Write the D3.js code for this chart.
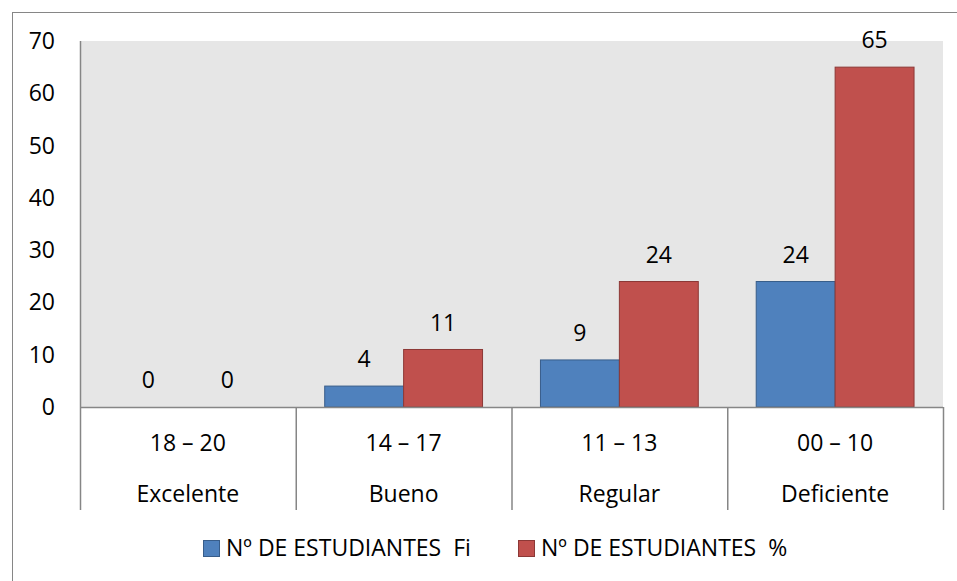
<!DOCTYPE html>
<html>
<head>
<meta charset="utf-8">
<script src="https://cdn.jsdelivr.net/npm/d3@7"></script>
<style>
  body { margin: 0; background: #fff; }
  svg { display: block; font-family: "Open Sans", "Noto Sans", sans-serif; }
</style>
</head>
<body>
<svg id="chart"></svg>
<script>
// data
const ranges = ["18 – 20", "14 – 17", "11 – 13", "00 – 10"];
const levels = ["Excelente", "Bueno", "Regular", "Deficiente"];
const fiValues = [0, 4, 9, 24];
const pctValues = [0, 11, 24, 65];
const seriesNames = ["Nº DE ESTUDIANTES  Fi", "Nº DE ESTUDIANTES  %"];
const seriesColors = ["#4f81bd", "#c0504d"];
const seriesStroke = ["#385d8a", "#8c3836"];
const yTicks = [0, 10, 20, 30, 40, 50, 60, 70];

const W = 957, H = 581;
const plot = { left: 80, right: 943, top: 41, bottom: 407 };
const axisBottom = 510;
const fontSize = 23;

const svg = d3.select("#chart").attr("width", W).attr("height", H);

// outer frame
svg.append("rect")
  .attr("x", 12.5).attr("y", 12.5)
  .attr("width", W).attr("height", H)
  .attr("fill", "none").attr("stroke", "#868686").attr("stroke-width", 1);

// scales
const x = d3.scaleBand().domain(levels).range([plot.left, plot.right]);
const y = d3.scaleLinear().domain([0, 70]).range([plot.bottom, plot.top]);
const inner = d3.scaleBand().domain([0, 1]).range([0, x.bandwidth()]).paddingInner(0).paddingOuter(0.367);

// plot background
svg.append("rect")
  .attr("x", plot.left).attr("y", plot.top)
  .attr("width", plot.right - plot.left).attr("height", plot.bottom - plot.top)
  .attr("fill", "#e6e6e6");

// y axis labels
svg.append("g")
  .selectAll("text")
  .data(yTicks)
  .join("text")
  .attr("x", 55)
  .attr("y", (d) => y(d))
  .attr("dy", "0.35em")
  .attr("text-anchor", "end")
  .attr("font-size", fontSize)
  .text((d) => d);

// bars + value labels
const series = [fiValues, pctValues];
series.forEach((vals, si) => {
  svg.append("g")
    .selectAll("rect")
    .data(vals)
    .join("rect")
    .attr("x", (d, i) => x(levels[i]) + inner(si))
    .attr("y", (d) => y(d))
    .attr("width", inner.bandwidth())
    .attr("height", (d) => y(0) - y(d))
    .attr("fill", seriesColors[si])
    .attr("stroke", seriesStroke[si])
    .attr("stroke-width", (d) => (d > 0 ? 1 : 0));

  svg.append("g")
    .selectAll("text")
    .data(vals)
    .join("text")
    .attr("x", (d, i) => x(levels[i]) + inner(si) + inner.bandwidth() / 2)
    .attr("y", (d) => y(d) - 27)
    .attr("dy", "0.35em")
    .attr("text-anchor", "middle")
    .attr("font-size", fontSize)
    .text((d) => d);
});

// axis lines
const axisColor = "#868686";
svg.append("line")
  .attr("x1", plot.left).attr("x2", plot.right)
  .attr("y1", plot.bottom + 0.5).attr("y2", plot.bottom + 0.5)
  .attr("stroke", axisColor).attr("stroke-width", 1.5);
svg.append("line")
  .attr("x1", plot.left + 0.5).attr("x2", plot.left + 0.5)
  .attr("y1", plot.top).attr("y2", axisBottom)
  .attr("stroke", axisColor).attr("stroke-width", 1.5);

// category dividers
svg.append("g")
  .selectAll("line")
  .data(levels)
  .join("line")
  .attr("x1", (d) => x(d) + x.bandwidth() + 0.5)
  .attr("x2", (d) => x(d) + x.bandwidth() + 0.5)
  .attr("y1", plot.bottom)
  .attr("y2", axisBottom)
  .attr("stroke", axisColor).attr("stroke-width", 1.5);

// category labels (two rows)
svg.append("g")
  .selectAll("text")
  .data(ranges)
  .join("text")
  .attr("x", (d, i) => x(levels[i]) + x.bandwidth() / 2)
  .attr("y", 443)
  .attr("dy", "0.35em")
  .attr("text-anchor", "middle")
  .attr("font-size", fontSize)
  .text((d) => d);

svg.append("g")
  .selectAll("text")
  .data(levels)
  .join("text")
  .attr("x", (d) => x(d) + x.bandwidth() / 2)
  .attr("y", 494)
  .attr("dy", "0.35em")
  .attr("text-anchor", "middle")
  .attr("font-size", fontSize)
  .text((d) => d);

// legend
const legendX = [203, 518];
const legend = svg.append("g")
  .selectAll("g")
  .data(seriesNames)
  .join("g")
  .attr("transform", (d, i) => `translate(${legendX[i]},548)`);
legend.append("rect")
  .attr("x", 0.5).attr("y", -7.5)
  .attr("width", 16).attr("height", 16)
  .attr("fill", (d, i) => seriesColors[i])
  .attr("stroke", (d, i) => seriesStroke[i]);
legend.append("text")
  .attr("x", 23)
  .attr("dy", "0.35em")
  .attr("font-size", fontSize)
  .style("white-space", "pre")
  .text((d) => d);
</script>
</body>
</html>
